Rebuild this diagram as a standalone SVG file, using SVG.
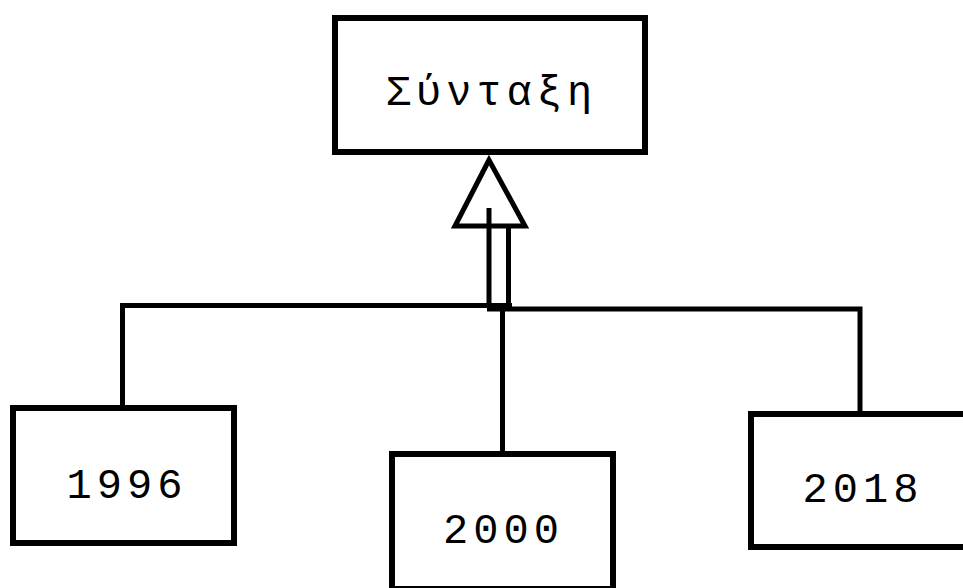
<svg xmlns="http://www.w3.org/2000/svg" width="963" height="588" viewBox="0 0 963 588">
<style>
.box{fill:#fff;stroke:#000;stroke-width:6}
.lbl{font-family:"Liberation Mono","DejaVu Sans Mono",monospace;font-size:42px;fill:#000;text-anchor:middle;letter-spacing:5px}
.ln{stroke:#000;stroke-width:5;fill:none}
</style>
<rect width="963" height="588" fill="#fff"/>
<g id="connectors">
<polyline class="ln" points="122.5,408 122.5,305.5 512,305.5"/>
<polyline class="ln" points="487,309 860,309 860,414"/>
<line class="ln" x1="502.5" y1="307" x2="502.5" y2="454"/>
<polygon points="489,160 455,226 525,226" fill="#fff" stroke="#000" stroke-width="5" stroke-linejoin="miter"/>
<line class="ln" x1="489" y1="208" x2="489" y2="307"/>
<line class="ln" x1="508.5" y1="226" x2="508.5" y2="307"/>
</g>
<g id="node-syntaxi">
<rect class="box" x="335" y="18" width="310" height="134"/>
<text class="lbl" x="491.5" y="105">Σύνταξη</text>
</g>
<g id="node-1996">
<rect class="box" x="13" y="408" width="221" height="135"/>
<text class="lbl" x="127" y="498">1996</text>
</g>
<g id="node-2000">
<rect class="box" x="392" y="454" width="221" height="135"/>
<text class="lbl" x="503.5" y="543">2000</text>
</g>
<g id="node-2018">
<rect class="box" x="751" y="414" width="218" height="133"/>
<text class="lbl" x="863" y="502">2018</text>
</g>
</svg>
